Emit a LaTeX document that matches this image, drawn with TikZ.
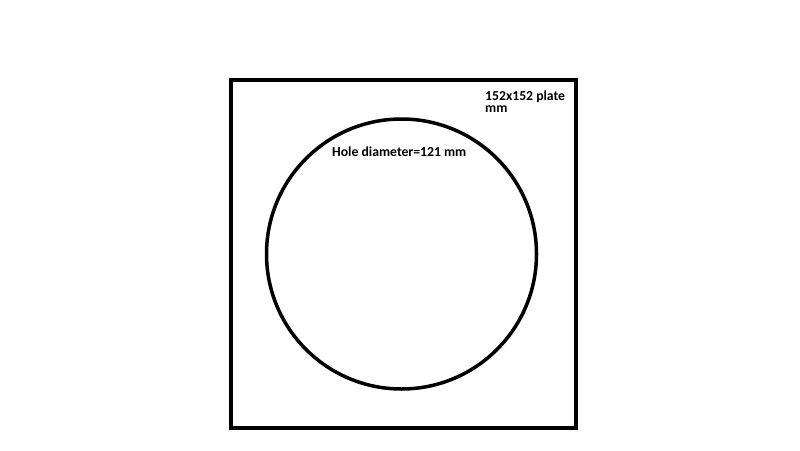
\documentclass[tikz,border=0pt]{standalone}
\usepackage{fontspec}
\setmainfont{Carlito}
\begin{document}
\begin{tikzpicture}[x=1pt,y=-1pt,
  lbl/.style={font=\bfseries\fontsize{13.7}{11.5}\selectfont, inner sep=0pt, anchor=north west, align=left}]
\useasboundingbox (0,0) rectangle (800,450);
\node[draw, line width=3.5pt, minimum width=345pt, minimum height=348pt, inner sep=0pt] (plate) at (403.5,254) {};
\node[draw, circle, line width=3.5pt, minimum size=270pt, inner sep=0pt] (hole) at (401.5,254) {};
\node[lbl] (platelbl) at (485,91) {152x152 plate\\mm};
\node[lbl] (holelbl) at (332,147) {Hole diameter=121 mm};
\end{tikzpicture}
\end{document}
